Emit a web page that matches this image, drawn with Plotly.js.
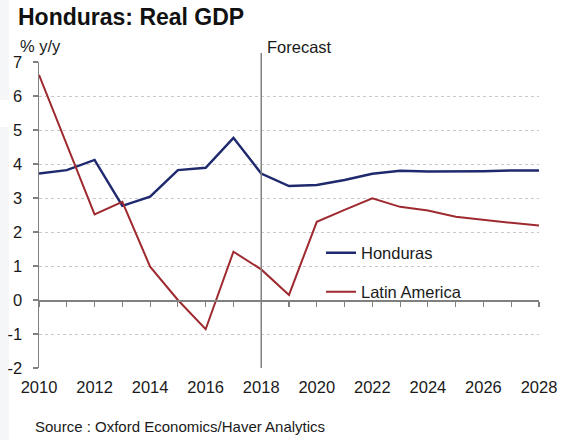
<!DOCTYPE html>
<html>
<head>
<meta charset="utf-8">
<script src="https://cdn.plot.ly/plotly-3.0.1.min.js"></script>
<style>html,body{margin:0;padding:0;background:#fff;}#chart{width:563px;height:440px;}</style>
</head>
<body>
<div id="chart"></div>
<script>
const years = [2010,2011,2012,2013,2014,2015,2016,2017,2018,2019,2020,2021,2022,2023,2024,2025,2026,2027,2028];
const honduras = [3.72,3.82,4.12,2.77,3.04,3.82,3.89,4.77,3.72,3.35,3.38,3.53,3.71,3.80,3.78,3.78,3.79,3.81,3.81];
const latinAmerica = [6.62,4.57,2.52,2.89,0.98,0.00,-0.86,1.42,0.90,0.15,2.30,2.65,2.99,2.74,2.63,2.45,2.35,2.27,2.19];
const xTickVals = [2010,2012,2014,2016,2018,2020,2022,2024,2026,2028];
const yTickVals = [-2,-1,0,1,2,3,4,5,6,7];
const yTickText = ['-2','-1','0','1','2','3','4','5','6','7'];
const forecastYear = 2018;
const seriesNames = ['Honduras','Latin America'];

const FONT = 'Liberation Sans, Arial, sans-serif';
const TXT = '#1a1a1a';
const L = 39, T = 62, W = 500, H = 306;
const px = x => (x - L) / W;
const py = y => (T + H - y) / H;

const traces = [
  {x: years, y: honduras, name: seriesNames[0], type: 'scatter', mode: 'lines',
   line: {color: '#1f2a6e', width: 2.5}, legend: 'legend'},
  {x: years, y: latinAmerica, name: seriesNames[1], type: 'scatter', mode: 'lines',
   line: {color: '#9e2a30', width: 2}, legend: 'legend2', xaxis: 'x2'}
];

const layout = {
  width: 563, height: 440,
  margin: {l: L, r: 563 - L - W, t: T, b: 440 - T - H, pad: 0},
  paper_bgcolor: '#ffffff', plot_bgcolor: '#ffffff',
  font: {family: FONT, color: TXT, size: 16.5},
  title: {text: '<b>Honduras: Real GDP</b>', font: {family: FONT, size: 23, color: '#111'},
          x: 18/563, xanchor: 'left', xref: 'container', y: 1 - 9/440, yanchor: 'top', yref: 'container'},
  xaxis: {range: [2010, 2028], tickvals: xTickVals, ticktext: xTickVals.map(String),
          showgrid: false, zeroline: false, showline: false, ticks: '',
          ticklabelstandoff: 7,
          tickfont: {size: 16.5, color: TXT}, fixedrange: true},
  xaxis2: {range: [2010, 2028], overlaying: 'x', anchor: 'free', position: 2/9,
           showgrid: false, zeroline: false, showline: true, linecolor: '#808080', linewidth: 1.5,
           ticks: 'outside', ticklen: 5, tickwidth: 1.2, tickcolor: '#808080',
           tick0: 2010, dtick: 1, showticklabels: false, fixedrange: true},
  yaxis: {range: [-2, 7], tickvals: yTickVals, ticktext: yTickText, showgrid: true, gridcolor: '#c8c8c8', griddash: '3px,3px',
          gridwidth: 1, zeroline: false, showline: true, linecolor: '#808080', linewidth: 1.5,
          ticks: 'outside', ticklen: 5, tickwidth: 1.2, tickcolor: '#808080',
          ticklabelstandoff: 7, tickfont: {size: 16.5, color: TXT}, fixedrange: true},
  legend: {x: px(321), xanchor: 'left', y: py(253), yanchor: 'middle', bgcolor: 'rgba(0,0,0,0)',
           font: {size: 16.5, color: TXT}, itemwidth: 30},
  legend2: {x: px(321), xanchor: 'left', y: py(292), yanchor: 'middle', bgcolor: 'rgba(0,0,0,0)',
            font: {size: 16.5, color: TXT}, itemwidth: 30},
  shapes: [
    {type: 'line', xref: 'x', yref: 'paper', x0: forecastYear, x1: forecastYear, y0: 0, y1: py(53),
     line: {color: '#808080', width: 1.5}},
    {type: 'rect', xref: 'paper', yref: 'paper', x0: px(0), x1: px(9), y0: py(0), y1: py(100),
     line: {width: 0}, fillcolor: '#f5f6f8', layer: 'below'},
    {type: 'rect', xref: 'paper', yref: 'paper', x0: px(0), x1: px(9), y0: py(127), y1: py(440),
     line: {width: 0}, fillcolor: '#f5f6f8', layer: 'below'}
  ],
  annotations: [
    {text: 'Forecast', xref: 'x', x: forecastYear, xshift: 4, xanchor: 'left',
     yref: 'paper', y: py(47), yanchor: 'middle', showarrow: false, font: {size: 16.5, color: TXT}},
    {text: '% y/y', xref: 'paper', x: px(18), xanchor: 'left',
     yref: 'paper', y: py(46), yanchor: 'middle', showarrow: false, font: {size: 16.5, color: TXT}},
    {text: 'Source : Oxford Economics/Haver Analytics', xref: 'paper', x: px(33), xanchor: 'left',
     yref: 'paper', y: py(426), yanchor: 'middle', showarrow: false, font: {size: 15, color: TXT}}
  ],
  showlegend: true
};

Plotly.newPlot('chart', traces, layout, {displayModeBar: false, staticPlot: true});
</script>
</body>
</html>
